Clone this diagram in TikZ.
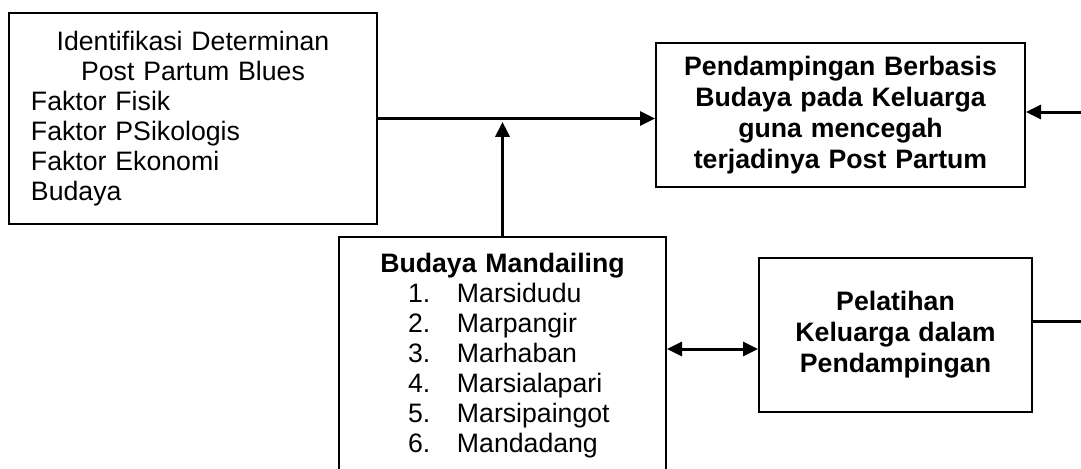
\documentclass[tikz,border=0pt]{standalone}
\usepackage{fontspec}
\setmainfont{Liberation Sans}
\usetikzlibrary{arrows.meta}
\begin{document}
\begin{tikzpicture}[x=0.75pt,y=-0.75pt,
  box/.style={draw, line width=1.5pt, rectangle, inner sep=0pt,
    font=\fontsize{20}{22.5}\selectfont},
  boldbox/.style={box, font=\fontsize{20}{23.25}\selectfont\bfseries, align=center},
  conn/.style={line width=2.25pt},
  link/.style={conn, -{Triangle[length=11.25pt,width=10.5pt]}},
  dlink/.style={conn, {Triangle[length=11.25pt,width=10.5pt]}-{Triangle[length=11.25pt,width=10.5pt]}}]
\clip (0,0) rectangle (1081,468);
\fill[white] (0,0) rectangle (1081,468);

% determinants of post partum blues
\node[box, minimum width=276pt, minimum height=158.25pt, text width=243pt, align=left]
  (A) at (193,118.5)
  {{\centering Identifikasi Determinan\\Post Partum Blues\par}%
   Faktor Fisik\\Faktor PSikologis\\Faktor Ekonomi\\Budaya};

% culture-based family assistance
\node[boldbox, minimum width=276.75pt, minimum height=108pt, text width=265pt]
  (B) at (840.5,115)
  {Pendampingan Berbasis\\Budaya pada Keluarga\\guna mencegah\\terjadinya Post Partum};

% Mandailing customs
\node[box, minimum width=245.25pt, minimum height=178.5pt, text width=230.25pt, align=left]
  (C) at (502.5,356)
  {{\centering\bfseries Budaya Mandailing\par}%
   \hspace*{44.25pt}\makebox[36.75pt][l]{1.}Marsidudu\\
   \hspace*{44.25pt}\makebox[36.75pt][l]{2.}Marpangir\\
   \hspace*{44.25pt}\makebox[36.75pt][l]{3.}Marhaban\\
   \hspace*{44.25pt}\makebox[36.75pt][l]{4.}Marsialapari\\
   \hspace*{44.25pt}\makebox[36.75pt][l]{5.}Marsipaingot\\
   \hspace*{44.25pt}\makebox[36.75pt][l]{6.}Mandadang};

% family training
\node[boldbox, minimum width=204.75pt, minimum height=115.5pt, text width=195pt]
  (D) at (895.5,335)
  {Pelatihan\\Keluarga dalam\\Pendampingan};

% connectors
\draw[link] (A.east) -- (A.east -| B.west);
\draw[link, shorten >=2.5pt] (C.north) -- (C.north |- A.east);
\draw[dlink] ([yshift=-10.5pt]D.west) -- ([yshift=-10.5pt]D.west -| C.east);
\coordinate (outD) at (1090,321);
\draw[conn] (outD -| D.east) -- (outD);
\coordinate (inB) at (1090,112);
\draw[link] (inB) -- (inB -| B.east);
\end{tikzpicture}
\end{document}
